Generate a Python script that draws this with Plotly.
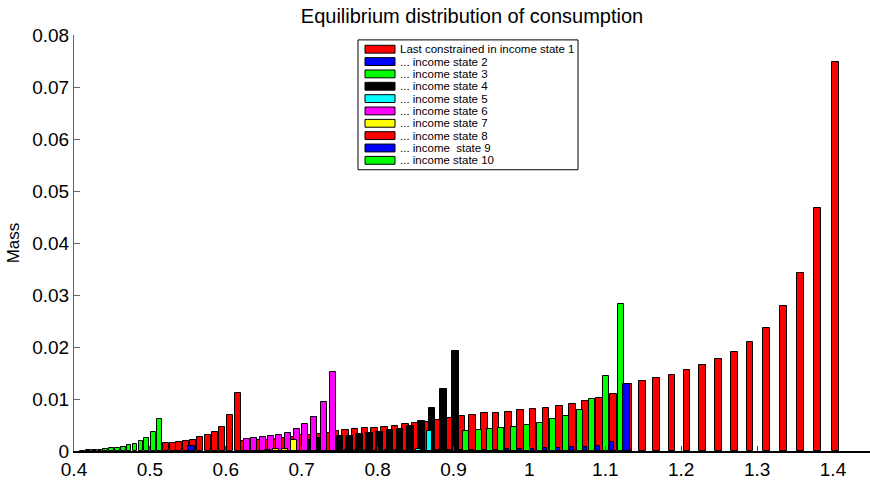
import plotly.graph_objects as go

# ---------------- data (consumption level, mass) ----------------
# state 1 (red) - broad distribution
s1_x = [0.6220, 0.6319, 0.6431, 0.6543, 0.6648, 0.6760, 0.6872, 0.6984, 0.7096, 0.7215,
        0.7333, 0.7452, 0.7577, 0.7702, 0.7834, 0.7962, 0.8094, 0.8229, 0.8364, 0.8499,
        0.8644, 0.8800, 0.8945, 0.9101, 0.9253, 0.9406, 0.9560, 0.9722, 0.9885, 1.0047,
        1.0219, 1.0394, 1.0570, 1.0737, 1.0926, 1.1108, 1.1303, 1.1490, 1.1677, 1.1878,
        1.2076, 1.2278, 1.2489, 1.2700, 1.2906, 1.3126, 1.3345, 1.3574, 1.3800, 1.4036]
s1_y = [0.0019, 0.0020, 0.0021, 0.0022, 0.0023, 0.0025, 0.0027, 0.0030, 0.0031, 0.0033,
        0.0035, 0.0038, 0.0040, 0.0042, 0.0044, 0.0045, 0.0046, 0.0049, 0.0051, 0.0053,
        0.0055, 0.0060, 0.0063, 0.0067, 0.0070, 0.0073, 0.0074, 0.0075, 0.0079, 0.0081,
        0.0083, 0.0087, 0.0091, 0.0096, 0.0101, 0.0110, 0.0129, 0.0135, 0.0140, 0.0147,
        0.0155, 0.0165, 0.0176, 0.0191, 0.0210, 0.0237, 0.0278, 0.0342, 0.0468, 0.0748]

# state 2 (blue)
s2_x = [0.8796, 0.8941, 0.9107, 0.9243, 0.9398, 0.9556, 0.9711, 0.9872, 1.0038, 1.0208,
        1.0380, 1.0555, 1.0733, 1.0908, 1.1084]
s2_y = [0.00012, 0.00015, 0.0002, 0.00025, 0.00025, 0.00025, 0.0003, 0.00035, 0.0004, 0.0005,
        0.0006, 0.0007, 0.0008, 0.0010, 0.0018]

# state 3 (green)
s3_x = [0.9169, 0.9333, 0.9477, 0.9630, 0.9800, 0.9968, 1.0136, 1.0311, 1.0486, 1.0663,
        1.0831, 1.1013, 1.1202]
s3_y = [0.0038, 0.0040, 0.0042, 0.0044, 0.0046, 0.0050, 0.0054, 0.0061, 0.0068, 0.0078,
        0.0100, 0.0144, 0.0283]

# state 4 (black)
s4_x = [0.7110, 0.7241, 0.7505, 0.7627, 0.7759, 0.7891, 0.8022, 0.8163, 0.8295, 0.8436,
        0.8576, 0.8717, 0.8871, 0.9024]
s4_y = [0.0021, 0.0025, 0.0029, 0.0029, 0.0032, 0.0034, 0.0037, 0.0040, 0.0043, 0.0049,
        0.0058, 0.0082, 0.0120, 0.0193]

# state 5 (cyan)
s5_x = [0.7472, 0.7607, 0.7735, 0.7867, 0.8008, 0.8134, 0.8262, 0.8404, 0.8542, 0.8681]
s5_y = [0.0001, 0.0001, 0.0001, 0.0001, 0.0001, 0.00012, 0.00015, 0.0002, 0.0004, 0.0039]

# state 6 (magenta)
s6_x = [0.6275, 0.6378, 0.6487, 0.6596, 0.6705, 0.6817, 0.6934, 0.7047, 0.7162, 0.7290, 0.7412]
s6_y = [0.0023, 0.0025, 0.0027, 0.0029, 0.0031, 0.0035, 0.0042, 0.0051, 0.0065, 0.0095, 0.0152]

# state 7 (yellow)
s7_x = [0.6560, 0.6665, 0.6776, 0.6895]
s7_y = [0.0002, 0.0003, 0.0004, 0.0021]

# state 8 (red)
s8_x = [0.5216, 0.5304, 0.5387, 0.5476, 0.5572, 0.5664, 0.5759, 0.5855, 0.5954, 0.6051, 0.6157]
s8_y = [0.0015, 0.0016, 0.0017, 0.0020, 0.0022, 0.0026, 0.0030, 0.0037, 0.0047, 0.0069, 0.0112]

# state 9 (blue)
s9_x = [0.5545, 1.1281]
s9_y = [0.0010, 0.0129]

# state 10 (green)
s10_x = [0.4112, 0.4188, 0.4267, 0.4343, 0.4419, 0.4497, 0.4573, 0.4650, 0.4725, 0.4804,
         0.4883, 0.4959, 0.5051, 0.5126]
s10_y = [0.00005, 0.0001, 0.00016, 0.00028, 0.0004, 0.00053, 0.00066, 0.00085, 0.00117, 0.00141,
         0.00184, 0.00254, 0.00367, 0.00607]

legend_labels = ["Last constrained in income state 1", "... income state 2", "... income state 3",
                 "... income state 4", "... income state 5", "... income state 6",
                 "... income state 7", "... income state 8", "... income\u00a0 state 9",
                 "... income state 10"]

x_ticks = [0.4, 0.5, 0.6, 0.7, 0.8, 0.9, 1.0, 1.1, 1.2, 1.3, 1.4]
x_ticktext = ["0.4", "0.5", "0.6", "0.7", "0.8", "0.9", "1", "1.1", "1.2", "1.3", "1.4"]
y_ticks = [0, 0.01, 0.02, 0.03, 0.04, 0.05, 0.06, 0.07, 0.08]
y_ticktext = ["0", "0.01", "0.02", "0.03", "0.04", "0.05", "0.06", "0.07", "0.08"]

# ---------------- styling ----------------
series = [
    (s1_x, s1_y, "#FF0000", 0.0088),
    (s2_x, s2_y, "#0000FF", 0.0053),
    (s3_x, s3_y, "#00FF00", 0.0079),
    (s4_x, s4_y, "#000000", 0.0090),
    (s5_x, s5_y, "#00FFFF", 0.0066),
    (s6_x, s6_y, "#FF00FF", 0.0079),
    (s7_x, s7_y, "#FFFF00", 0.0079),
    (s8_x, s8_y, "#FF0000", 0.0079),
    (s9_x, s9_y, "#0000FF", 0.0088),
    (s10_x, s10_y, "#00FF00", 0.0062),
]

FONT = "Liberation Sans, Arial, Helvetica, sans-serif"
W, H = 870, 480
L, R, T, B = 74, 0, 35, 20.5

fig = go.Figure()
for (xs, ys, col, w), name in zip(series, legend_labels):
    fig.add_trace(go.Bar(
        x=xs, y=ys, width=w, name=name, showlegend=False,
        marker=dict(color=col, line=dict(color="black", width=1)),
    ))

# ---------- custom MATLAB-like legend (wide patches) ----------
pw = W - L - R
ph = H - T - B
def px(xp):
    return (xp - L) / pw
def py(yp):
    return (H - B - yp) / ph

box_l, box_r, box_t, box_b = 358, 578, 40, 172.5
shapes = [dict(type="rect", xref="paper", yref="paper",
               x0=px(box_l), x1=px(box_r), y0=py(box_b), y1=py(box_t),
               line=dict(color="black", width=1), fillcolor="white", layer="above")]
annotations = []
for i, (lab, s) in enumerate(zip(legend_labels, series)):
    yc = 49.5 + 12.6 * i
    shapes.append(dict(type="rect", xref="paper", yref="paper",
                       x0=px(365), x1=px(395), y0=py(yc + 4), y1=py(yc - 4),
                       line=dict(color="black", width=1), fillcolor=s[2], layer="above"))
    annotations.append(dict(xref="paper", yref="paper", x=px(398), y=py(yc),
                            xanchor="left", yanchor="middle", text=lab, showarrow=False,
                            font=dict(family=FONT, size=11.5, color="black")))

fig.update_layout(
    width=W, height=H,
    margin=dict(l=L, r=R, t=T, b=B, pad=0),
    paper_bgcolor="white", plot_bgcolor="white",
    barmode="overlay", bargap=0,
    font=dict(family=FONT, size=19, color="black"),
    title=dict(text="Equilibrium distribution of consumption", x=(L + (W - R)) / 2 / W,
               xanchor="center", y=1 - 16 / H, yanchor="middle", yref="container",
               font=dict(family=FONT, size=20, color="black")),
    shapes=shapes, annotations=annotations,
    showlegend=False,
)
fig.update_xaxes(range=[0.4, 0.4 + pw / 759.0], tickvals=x_ticks, ticktext=x_ticktext,
                 showgrid=False, zeroline=False, showline=True, linecolor="black", linewidth=2,
                 ticks="inside", ticklen=5, tickcolor="#444", tickwidth=1,
                 tickfont=dict(family=FONT, size=19, color="black"))
fig.update_yaxes(range=[0, 0.08], tickvals=y_ticks, ticktext=y_ticktext,
                 showgrid=False, zeroline=False, showline=True, linecolor="#666", linewidth=1,
                 ticks="inside", ticklen=6, tickcolor="#666", tickwidth=1,
                 tickfont=dict(family=FONT, size=19, color="black"),
                 title=dict(text="Mass", font=dict(family=FONT, size=17, color="black"), standoff=8))

fig.write_html("out.html")
